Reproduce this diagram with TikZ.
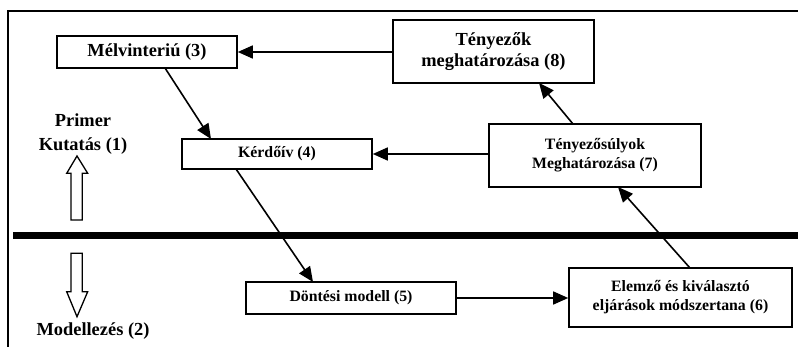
\documentclass[tikz,border=0pt]{standalone}
\usepackage{fontspec}
\setmainfont{Liberation Serif}
\usetikzlibrary{arrows.meta}
\begin{document}
\begin{tikzpicture}[x=1pt,y=-1pt,
  box/.style={draw,line width=1.6pt,inner sep=0pt,align=center,font=\bfseries},
  big/.style={font=\fontsize{18.4}{21}\selectfont\bfseries},
  small/.style={font=\fontsize{15.8}{19}\selectfont\bfseries},
  conn/.style={line width=1.6pt,-{Triangle[length=15pt,width=13pt]}},
  hollow/.style={draw,line width=1.3pt,fill=white,line join=miter},
  frame/.style={line width=1.5pt}]
\useasboundingbox (0,0) rectangle (798,347);
% frame
\draw[frame] (8,347) -- (8,11) -- (798,11);
\draw[line width=7.5pt] (13,235.5) -- (798,235.5);
% boxes
\node[box,big,minimum width=180pt,minimum height=32pt] (n3) at (147,52) {Mélvinteriú (3)};
\node[box,big,minimum width=201pt,minimum height=63pt] (n8) at (493.5,51.5) {Tényezők\\meghatározása (8)};
\node[box,small,minimum width=190pt,minimum height=30pt] (n4) at (277,154) {Kérdőív (4)};
\node[box,small,minimum width=212pt,minimum height=63pt] (n7) at (595,155.5) {Tényezősúlyok\\Meghatározása (7)};
\node[box,small,minimum width=210pt,minimum height=32pt] (n5) at (351,298) {Döntési modell (5)};
\node[box,small,minimum width=223pt,minimum height=59pt] (n6) at (680.5,297.5) {Elemző és kiválasztó\\eljárások módszertana (6)};
% labels
\node[big,align=center] (l1) at (83,134) {Primer\\[2.5pt]Kutatás (1)};
\node[big] (l2) at (93,331) {Modellezés (2)};
% hollow arrows
\draw[hollow] (77,156) -- (87.7,173.3) -- (82.3,173.3) -- (82.3,220) -- (71,220) -- (71,173.3) -- (66.7,173.3) -- cycle;
\draw[hollow] (77,316.7) -- (87.7,291.7) -- (82.3,291.7) -- (82.3,253.3) -- (71,253.3) -- (71,291.7) -- (66.7,291.7) -- cycle;
% connectors
\draw[conn] (n8.west |- n3.east) -- (n3.east);
\draw[conn] (n7.west |- n4.east) -- (n4.east);
\draw[conn] (165,68) coordinate (a34) -- (211,139) coordinate (b34);
\draw[conn] (236,169) coordinate (a45) -- (313,282) coordinate (b45);
\draw[conn] (n5.east) -- (n6.west |- n5.east);
\draw[conn] (690,268) coordinate (a67) -- (618,187) coordinate (b67);
\draw[conn] (573,124) coordinate (a78) -- (539,83) coordinate (b78);
\end{tikzpicture}
\end{document}
